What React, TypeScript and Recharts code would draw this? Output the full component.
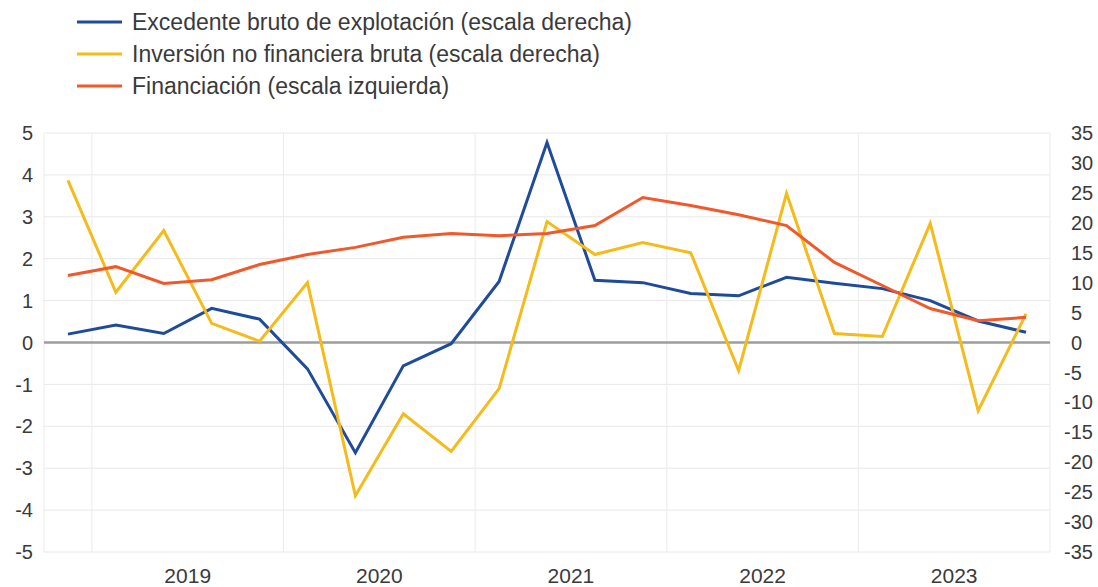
import React from 'react';
import { LineChart, Line, XAxis, YAxis, CartesianGrid, ReferenceLine } from 'recharts';

const quarters = [
  '2018T4',
  '2019T1', '2019T2', '2019T3', '2019T4',
  '2020T1', '2020T2', '2020T3', '2020T4',
  '2021T1', '2021T2', '2021T3', '2021T4',
  '2022T1', '2022T2', '2022T3', '2022T4',
  '2023T1', '2023T2', '2023T3', '2023T4',
];

// escala derecha
const excedente = [1.4, 2.9, 1.5, 5.7, 3.9, -4.4, -18.4, -3.9, -0.2, 10.2, 33.4, 10.4, 10.0, 8.2, 7.8, 10.9, 9.9, 9.0, 7.0, 3.6, 1.7];
// escala derecha
const inversion = [27.1, 8.4, 18.7, 3.2, 0.2, 10.0, -25.6, -11.9, -18.2, -7.7, 20.2, 14.7, 16.7, 15.0, -4.7, 24.9, 1.5, 1.0, 19.9, -11.4, 4.8];
// escala izquierda
const financiacion = [1.6, 1.81, 1.41, 1.5, 1.86, 2.1, 2.27, 2.51, 2.6, 2.55, 2.6, 2.79, 3.46, 3.27, 3.05, 2.79, 1.91, 1.36, 0.81, 0.52, 0.6];

const yearLabels = ['2019', '2020', '2021', '2022', '2023'];
const yearCenters = [2.5, 6.5, 10.5, 14.5, 18.5];
const yearBoundaries = [-0.5, 0.5, 4.5, 8.5, 12.5, 16.5, 20.5];
const leftTicks = [-5, -4, -3, -2, -1, 0, 1, 2, 3, 4, 5];
const rightTicks = [-35, -30, -25, -20, -15, -10, -5, 0, 5, 10, 15, 20, 25, 30, 35];

const seriesKeys = ['excedente', 'inversion', 'financiacion'];
const seriesNames = [
  'Excedente bruto de explotación (escala derecha)',
  'Inversión no financiera bruta (escala derecha)',
  'Financiación (escala izquierda)',
];
const seriesColors = ['#1f4b9b', '#f5bb1b', '#f0592a'];
const seriesAxis = ['right', 'right', 'left'];

const data = quarters.map((q, i) => ({
  idx: i,
  quarter: q,
  excedente: excedente[i],
  inversion: inversion[i],
  financiacion: financiacion[i],
}));

const FONT = '"Liberation Sans", Arial, sans-serif';
const TEXT = '#3a3a3a';

const RightTick = (props: any) => {
  const { x, y, payload } = props;
  const v = payload.value as number;
  return (
    <text
      x={x + (v < 0 ? 0 : 7)}
      y={y}
      dy="0.355em"
      textAnchor="start"
      fill={TEXT}
      fontSize={20}
      fontFamily={FONT}
    >
      {v < 0 ? '-' + Math.abs(v) : String(v)}
    </text>
  );
};

function LegendBlock() {
  return (
    <div style={{ position: 'absolute', left: 77, top: 6, fontFamily: FONT }}>
      {seriesNames.map((n, i) => (
        <div key={n} style={{ display: 'flex', alignItems: 'center', height: 32 }}>
          <svg width={55} height={10} style={{ display: 'block' }}>
            <line x1={0} y1={5} x2={45} y2={5} stroke={seriesColors[i]} strokeWidth={3} />
          </svg>
          <span style={{ fontSize: 23, color: TEXT, lineHeight: '32px', whiteSpace: 'nowrap' }}>{n}</span>
        </div>
      ))}
    </div>
  );
}

export default function App() {
  return (
    <div style={{ position: 'absolute', left: 0, top: 0, width: 1098, height: 587, background: '#fff' }}>
      <LineChart
        width={1098}
        height={587}
        data={data}
        margin={{ top: 133, right: 0, bottom: 0, left: 0 }}
      >
        <CartesianGrid yAxisId="left" vertical={false} stroke="#e8e8e8" strokeWidth={1} />
        <XAxis
          dataKey="idx"
          type="number"
          domain={[-0.5, 20.5]}
          ticks={yearCenters}
          tickFormatter={(v: number) => yearLabels[yearCenters.indexOf(v)] ?? ''}
          axisLine={false}
          tickLine={false}
          tickSize={0}
          tickMargin={16}
          height={35}
          interval={0}
          tick={{ fill: TEXT, fontSize: 21, fontFamily: FONT }}
        />
        <YAxis
          yAxisId="left"
          orientation="left"
          domain={[-5, 5]}
          ticks={leftTicks}
          width={44}
          axisLine={false}
          tickLine={false}
          tickSize={0}
          tickMargin={11}
          interval={0}
          tick={{ fill: TEXT, fontSize: 20, fontFamily: FONT }}
        />
        <YAxis
          yAxisId="right"
          orientation="right"
          domain={[-35, 35]}
          ticks={rightTicks}
          width={48}
          axisLine={false}
          tickLine={false}
          tickSize={0}
          tickMargin={14}
          interval={0}
          tick={<RightTick />}
        />
        {yearBoundaries.map((b) => (
          <ReferenceLine key={b} x={b} yAxisId="left" stroke="#ececec" strokeWidth={1} />
        ))}
        <ReferenceLine y={0} yAxisId="left" stroke="#9d9d9d" strokeWidth={2.5} />
        {seriesKeys.map((k, i) => (
          <Line
            key={k}
            yAxisId={seriesAxis[i]}
            dataKey={k}
            name={seriesNames[i]}
            stroke={seriesColors[i]}
            strokeWidth={3}
            dot={false}
            isAnimationActive={false}
            type="linear"
          />
        ))}
      </LineChart>
      <LegendBlock />
    </div>
  );
}
